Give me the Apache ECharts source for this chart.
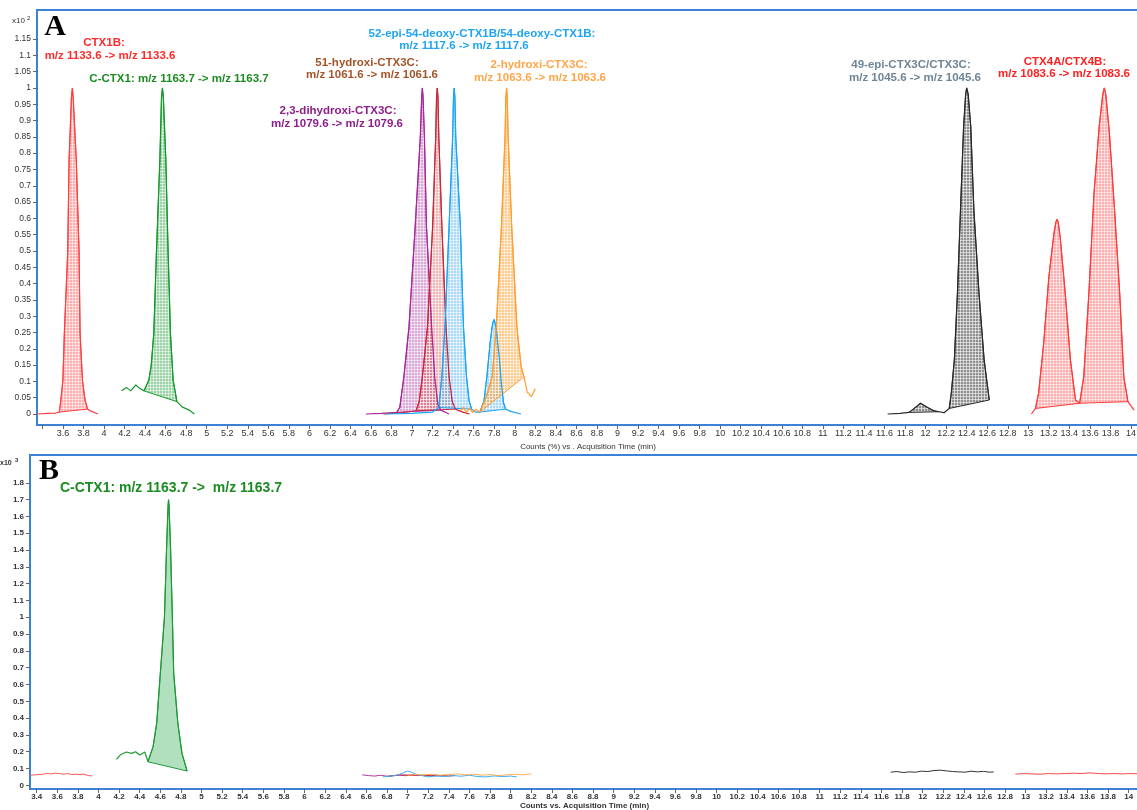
<!DOCTYPE html>
<html>
<head>
<meta charset="utf-8">
<script src="https://cdn.jsdelivr.net/npm/echarts@6/dist/echarts.min.js"></script>
<style>html,body{margin:0;padding:0;background:#fff;overflow:hidden}#c{width:1137px;height:810px}</style>
</head>
<body>
<div id="c"></div>
<script>
// ---------- tick labels ----------
const timeTicks = [3.4,3.6,3.8,4,4.2,4.4,4.6,4.8,5,5.2,5.4,5.6,5.8,6,6.2,6.4,6.6,6.8,7,7.2,7.4,7.6,7.8,8,8.2,8.4,8.6,8.8,9,9.2,9.4,9.6,9.8,10,10.2,10.4,10.6,10.8,11,11.2,11.4,11.6,11.8,12,12.2,12.4,12.6,12.8,13,13.2,13.4,13.6,13.8,14];
const yTicksA = [0,0.05,0.1,0.15,0.2,0.25,0.3,0.35,0.4,0.45,0.5,0.55,0.6,0.65,0.7,0.75,0.8,0.85,0.9,0.95,1,1.05,1.1,1.15];
const yTicksB = [0,0.1,0.2,0.3,0.4,0.5,0.6,0.7,0.8,0.9,1,1.1,1.2,1.3,1.4,1.5,1.6,1.7,1.8];

// ---------- Panel A traces (Counts %, x10^2) ----------
const ctx1bA = [[3.35,0],[3.45,0.002],[3.53,0.003],[3.565,0.006],[3.58,0.043],[3.60,0.104],[3.614,0.248],[3.647,0.5],[3.66,0.78],[3.683,0.97],[3.692,1.0],[3.70,0.97],[3.73,0.78],[3.757,0.5],[3.767,0.248],[3.79,0.104],[3.815,0.043],[3.84,0.015],[3.88,0.008],[3.94,0]];
const ctx1bAWin = [[3.565,3.84]];
const cctx1A = [[4.17,0.071],[4.22,0.081],[4.26,0.071],[4.31,0.089],[4.35,0.078],[4.39,0.071],[4.437,0.104],[4.46,0.15],[4.485,0.248],[4.511,0.5],[4.544,0.78],[4.56,0.97],[4.569,1.0],[4.578,0.97],[4.602,0.78],[4.624,0.5],[4.647,0.248],[4.673,0.104],[4.71,0.038],[4.76,0.022],[4.83,0.012],[4.88,0]];
const cctx1AWin = [[4.39,4.71]];
const dihydroxiA = [[6.55,0],[6.70,0.002],[6.85,0.005],[6.88,0.02],[6.92,0.114],[6.97,0.268],[7.03,0.575],[7.08,0.85],[7.093,0.97],[7.10,1.0],[7.107,0.97],[7.12,0.85],[7.14,0.575],[7.19,0.268],[7.22,0.114],[7.25,0.03],[7.28,0.012],[7.36,0]];
const dihydroxiAWin = [[6.85,7.28]];
const hydroxi51A = [[6.72,0],[6.90,0.004],[7.04,0.01],[7.07,0.04],[7.10,0.114],[7.15,0.268],[7.20,0.575],[7.23,0.85],[7.238,0.97],[7.245,1.0],[7.252,0.97],[7.26,0.85],[7.29,0.575],[7.33,0.268],[7.36,0.114],[7.39,0.04],[7.42,0.015],[7.50,0.005],[7.56,0]];
const hydroxi51AWin = [[7.04,7.42]];
const deoxyA = [[6.75,0],[7.00,0.002],[7.20,0.006],[7.26,0.02],[7.29,0.114],[7.32,0.268],[7.36,0.575],[7.395,0.85],[7.403,0.97],[7.41,1.0],[7.417,0.97],[7.425,0.85],[7.47,0.575],[7.50,0.268],[7.53,0.114],[7.555,0.04],[7.58,0.015],[7.62,0.006],[7.66,0.006],[7.70,0.04],[7.73,0.12],[7.76,0.22],[7.785,0.28],[7.80,0.29],[7.82,0.26],[7.85,0.17],[7.87,0.09],[7.89,0.035],[7.91,0.015],[7.96,0.008],[8.06,0]];
const deoxyAWin = [[7.26,7.58],[7.66,7.91]];
const hydroxi2A = [[7.47,0.01],[7.50,0.02],[7.53,0.005],[7.56,0.018],[7.59,0.004],[7.62,0.015],[7.66,0.006],[7.72,0.05],[7.78,0.114],[7.82,0.268],[7.87,0.575],[7.905,0.85],[7.913,0.97],[7.92,1.0],[7.927,0.97],[7.935,0.85],[7.97,0.575],[8.02,0.268],[8.06,0.15],[8.075,0.13],[8.09,0.114],[8.12,0.068],[8.16,0.053],[8.20,0.077]];
const hydroxi2AWin = [[7.66,8.09]];
const ctx3cA = [[11.63,0],[11.75,0.002],[11.84,0.005],[11.88,0.015],[11.95,0.033],[12.02,0.02],[12.08,0.01],[12.13,0.007],[12.18,0.004],[12.23,0.017],[12.25,0.063],[12.28,0.166],[12.31,0.37],[12.34,0.626],[12.37,0.88],[12.39,0.98],[12.40,1.0],[12.415,0.98],[12.44,0.88],[12.47,0.626],[12.52,0.37],[12.57,0.166],[12.62,0.043]];
const ctx3cAWin = [[11.84,12.13],[12.23,12.62]];
const ctx4A = [[13.03,0],[13.07,0.017],[13.10,0.063],[13.15,0.217],[13.20,0.42],[13.25,0.554],[13.27,0.59],[13.28,0.597],[13.29,0.59],[13.31,0.544],[13.36,0.37],[13.41,0.166],[13.46,0.043],[13.50,0.033],[13.54,0.114],[13.59,0.37],[13.64,0.677],[13.69,0.88],[13.725,0.98],[13.74,1.0],[13.755,0.98],[13.79,0.86],[13.84,0.626],[13.89,0.37],[13.93,0.114],[13.97,0.038],[14.03,0.012]];
const ctx4AWin = [[13.07,13.50],[13.50,13.97]];

// ---------- Panel B traces (Counts, x10^3) ----------
const ctx1bB = [[3.34,0.060],[3.38,0.062],[3.42,0.064],[3.46,0.066],[3.50,0.070],[3.54,0.068],[3.58,0.072],[3.62,0.070],[3.66,0.066],[3.70,0.070],[3.74,0.064],[3.78,0.066],[3.82,0.064],[3.86,0.066],[3.90,0.058],[3.94,0.056]];
const cctx1B = [[4.175,0.154],[4.21,0.18],[4.27,0.198],[4.32,0.19],[4.36,0.20],[4.40,0.18],[4.45,0.198],[4.48,0.14],[4.53,0.23],[4.565,0.37],[4.60,0.665],[4.64,1.0],[4.66,1.4],[4.675,1.66],[4.68,1.70],[4.685,1.66],[4.70,1.4],[4.717,1.0],[4.73,0.665],[4.77,0.37],[4.81,0.19],[4.86,0.085]];
const cctx1BWin = [[4.48,4.86]];
const dihydroxiB = [[6.56,0.062],[6.62,0.058],[6.68,0.055],[6.74,0.06],[6.80,0.054],[6.86,0.058],[6.92,0.062],[6.98,0.057],[7.04,0.063],[7.10,0.058],[7.16,0.061],[7.22,0.056],[7.28,0.06],[7.34,0.055]];
const hydroxi51B = [[6.80,0.052],[6.86,0.057],[6.92,0.06],[6.98,0.062],[7.04,0.058],[7.10,0.063],[7.16,0.057],[7.22,0.06],[7.28,0.056],[7.34,0.059],[7.40,0.055],[7.46,0.058]];
const deoxyB = [[6.76,0.05],[6.84,0.055],[6.90,0.06],[6.96,0.075],[7.00,0.085],[7.04,0.078],[7.08,0.066],[7.14,0.058],[7.20,0.05],[7.28,0.056],[7.36,0.052],[7.44,0.058],[7.52,0.054],[7.60,0.06],[7.68,0.052],[7.76,0.05],[7.84,0.056],[7.92,0.052],[8.00,0.055],[8.06,0.05]];
const hydroxi2B = [[7.00,0.06],[7.08,0.064],[7.16,0.062],[7.24,0.066],[7.32,0.06],[7.40,0.064],[7.48,0.068],[7.56,0.062],[7.64,0.066],[7.72,0.06],[7.80,0.064],[7.88,0.058],[7.96,0.062],[8.04,0.066],[8.12,0.062],[8.20,0.068]];
const ctx3cB = [[11.69,0.078],[11.75,0.082],[11.81,0.076],[11.87,0.08],[11.93,0.078],[11.99,0.084],[12.05,0.082],[12.11,0.088],[12.17,0.09],[12.23,0.086],[12.29,0.082],[12.35,0.08],[12.41,0.078],[12.47,0.084],[12.53,0.08],[12.59,0.083],[12.65,0.078],[12.69,0.08]];
const ctx4B = [[12.90,0.066],[12.98,0.07],[13.06,0.068],[13.14,0.066],[13.22,0.07],[13.30,0.068],[13.38,0.07],[13.46,0.072],[13.54,0.07],[13.62,0.074],[13.70,0.07],[13.78,0.068],[13.86,0.07],[13.94,0.068],[14.02,0.07],[14.10,0.068]];

// ---------- styling ----------
const BLUE = '#3b82d6';
const FONT = '"Liberation Sans", Arial, sans-serif';

function hatch(rgb, a) {
  const c = document.createElement('canvas');
  c.width = 3; c.height = 3;
  const g = c.getContext('2d');
  g.fillStyle = 'rgba(' + rgb + ',' + a + ')';
  g.fillRect(0, 0, 3, 3);
  g.fillStyle = 'rgba(255,255,255,0.55)';
  g.fillRect(0, 0, 3, 1);
  g.fillRect(0, 0, 1, 3);
  return { image: c, repeat: 'repeat' };
}

const series = [];
function addTrace(data, gi, color, fill, wins, width) {
  (wins || []).forEach(w => {
    const pts = data.filter(p => p[0] >= w[0] - 1e-9 && p[0] <= w[1] + 1e-9);
    series.push({
      type: 'custom', xAxisIndex: gi, yAxisIndex: gi, silent: true, z: 1,
      data: [pts[0]],
      renderItem: (params, api) => ({
        type: 'polygon',
        shape: { points: pts.map(p => api.coord(p)) },
        style: { fill: fill, stroke: color, lineWidth: 1 }
      })
    });
  });
  series.push({
    type: 'line', xAxisIndex: gi, yAxisIndex: gi, data: data, showSymbol: false,
    symbol: 'none', z: 3, silent: true,
    lineStyle: { color: color, width: width || 1.2 }
  });
}
addTrace(ctx1bA, 0, '#ff4040', hatch('255,90,90', 0.5), ctx1bAWin);
addTrace(cctx1A, 0, '#139a2a', hatch('50,165,75', 0.5), cctx1AWin);
addTrace(dihydroxiA, 0, '#a6289a', hatch('170,50,160', 0.42), dihydroxiAWin);
addTrace(hydroxi51A, 0, '#c8283c', hatch('215,80,80', 0.42), hydroxi51AWin);
addTrace(deoxyA, 0, '#1aa6f5', hatch('60,165,240', 0.42), deoxyAWin);
addTrace(hydroxi2A, 0, '#ff9d2e', hatch('255,160,50', 0.55), hydroxi2AWin);
addTrace(ctx3cA, 0, '#2a2a2a', hatch('70,70,70', 0.6), ctx3cAWin);
addTrace(ctx4A, 0, '#ff3a3a', hatch('255,90,90', 0.5), ctx4AWin);

addTrace(ctx1bB, 1, '#ff5a5a', null, null, 1);
addTrace(cctx1B, 1, '#1f9a38', 'rgba(70,180,100,0.42)', cctx1BWin);
addTrace(dihydroxiB, 1, '#b03aa8', null, null, 1);
addTrace(hydroxi51B, 1, '#c8283c', null, null, 1);
addTrace(deoxyB, 1, '#3ab0f5', null, null, 1);
addTrace(hydroxi2B, 1, '#ffae50', null, null, 1);
addTrace(ctx3cB, 1, '#333333', null, null, 1);
addTrace(ctx4B, 1, '#ff4a4a', null, null, 1);

function xAxisCfg(gi, min, max, labels, name, bold, gap) {
  return {
    type: 'value', gridIndex: gi, min: min, max: max,
    splitLine: { show: false },
    axisLine: { onZero: false, lineStyle: { color: BLUE, width: 2 } },
    axisTick: { customValues: timeTicks, length: 4, lineStyle: { color: '#666' } },
    axisLabel: { customValues: labels, margin: 4, fontSize: bold ? 8 : 9, fontWeight: bold ? 'bold' : 'normal', color: '#333', fontFamily: FONT, formatter: v => String(v) },
    name: name, nameLocation: 'middle', nameGap: gap,
    nameTextStyle: { fontSize: 8, color: '#333', fontFamily: FONT, fontWeight: bold ? 'bold' : 'normal' }
  };
}
function yAxisCfg(gi, min, max, ticks, bold) {
  return {
    type: 'value', gridIndex: gi, min: min, max: max,
    splitLine: { show: false },
    axisLine: { onZero: false, lineStyle: { color: BLUE, width: 2 } },
    axisTick: { customValues: ticks, length: 4, lineStyle: { color: '#666' } },
    axisLabel: { customValues: ticks, margin: 6, fontSize: bold ? 8 : 8.5, fontWeight: bold ? 'bold' : 'normal', color: '#333', fontFamily: FONT, formatter: v => String(v) }
  };
}

function txt(x, y, text, color, size, align) {
  return { type: 'text', x: x, y: y, z: 100, silent: true,
    style: { text: text, fill: color, font: 'bold ' + size + 'px ' + FONT, align: align || 'center', verticalAlign: 'middle' } };
}

const graphic = [
  { type: 'text', x: 55, y: 27, z: 100, style: { text: 'A', fill: '#000', font: 'bold 30px "Liberation Serif", "DejaVu Serif", serif', align: 'center', verticalAlign: 'middle' } },
  { type: 'text', x: 49, y: 471, z: 100, style: { text: 'B', fill: '#000', font: 'bold 30px "Liberation Serif", "DejaVu Serif", serif', align: 'center', verticalAlign: 'middle' } },
  { type: 'text', x: 12, y: 21, style: { text: 'x10', fill: '#333', font: '8px ' + FONT, align: 'left', verticalAlign: 'middle' } },
  { type: 'text', x: 27, y: 18, style: { text: '2', fill: '#333', font: '6px ' + FONT, align: 'left', verticalAlign: 'middle' } },
  { type: 'text', x: 0, y: 463, style: { text: 'x10', fill: '#333', font: 'bold 7px ' + FONT, align: 'left', verticalAlign: 'middle' } },
  { type: 'text', x: 15, y: 460, style: { text: '3', fill: '#333', font: 'bold 6px ' + FONT, align: 'left', verticalAlign: 'middle' } },
  txt(104, 43, 'CTX1B:', '#ff2b2b', 11.5),
  txt(110, 56, 'm/z 1133.6 -> m/z 1133.6', '#ff2b2b', 11.5),
  txt(179, 79, 'C-CTX1: m/z 1163.7 -> m/z 1163.7', '#1b8c22', 11.5),
  txt(482, 34, '52-epi-54-deoxy-CTX1B/54-deoxy-CTX1B:', '#1ea4f2', 11.5),
  txt(464, 46, 'm/z 1117.6 -> m/z 1117.6', '#1ea4f2', 11.5),
  txt(367, 63, '51-hydroxi-CTX3C:', '#a5542a', 11.5),
  txt(372, 75, 'm/z 1061.6 -> m/z 1061.6', '#a5542a', 11.5),
  txt(539, 65, '2-hydroxi-CTX3C:', '#ffa54a', 11.5),
  txt(540, 78, 'm/z 1063.6 -> m/z 1063.6', '#ffa54a', 11.5),
  txt(338, 111, '2,3-dihydroxi-CTX3C:', '#8f1d8c', 11.5),
  txt(337, 124, 'm/z 1079.6 -> m/z 1079.6', '#8f1d8c', 11.5),
  txt(911, 65, '49-epi-CTX3C/CTX3C:', '#6f8596', 11.5),
  txt(915, 78, 'm/z 1045.6 -> m/z 1045.6', '#6f8596', 11.5),
  txt(1065, 62, 'CTX4A/CTX4B:', '#ff2020', 11.5),
  txt(1064, 74, 'm/z 1083.6 -> m/z 1083.6', '#ff2020', 11.5),
  txt(171, 488, 'C-CTX1: m/z 1163.7 ->  m/z 1163.7', '#1b8c22', 14)
];

const chart = echarts.init(document.getElementById('c'), null, { renderer: 'canvas' });
chart.setOption({
  animation: false,
  backgroundColor: '#fff',
  grid: [
    { left: 37, top: 10, width: 1102, height: 415, show: true, borderColor: BLUE, borderWidth: 2, backgroundColor: 'transparent', containLabel: false, outerBoundsMode: 'none' },
    { left: 30, top: 455, width: 1109, height: 334, show: true, borderColor: BLUE, borderWidth: 2, backgroundColor: 'transparent', containLabel: false, outerBoundsMode: 'none' }
  ],
  xAxis: [
    xAxisCfg(0, 3.3476, 14.078, timeTicks.slice(1), 'Counts (%) vs . Acquisition Time (min)', false, 14),
    xAxisCfg(1, 3.335, 14.10, timeTicks, 'Counts vs. Acquisition Time (min)', true, 13)
  ],
  yAxis: [
    yAxisCfg(0, -0.0337, 1.239, yTicksA, false),
    yAxisCfg(1, -0.022, 1.966, yTicksB, true)
  ],
  series: series,
  graphic: graphic
});
</script>
</body>
</html>
